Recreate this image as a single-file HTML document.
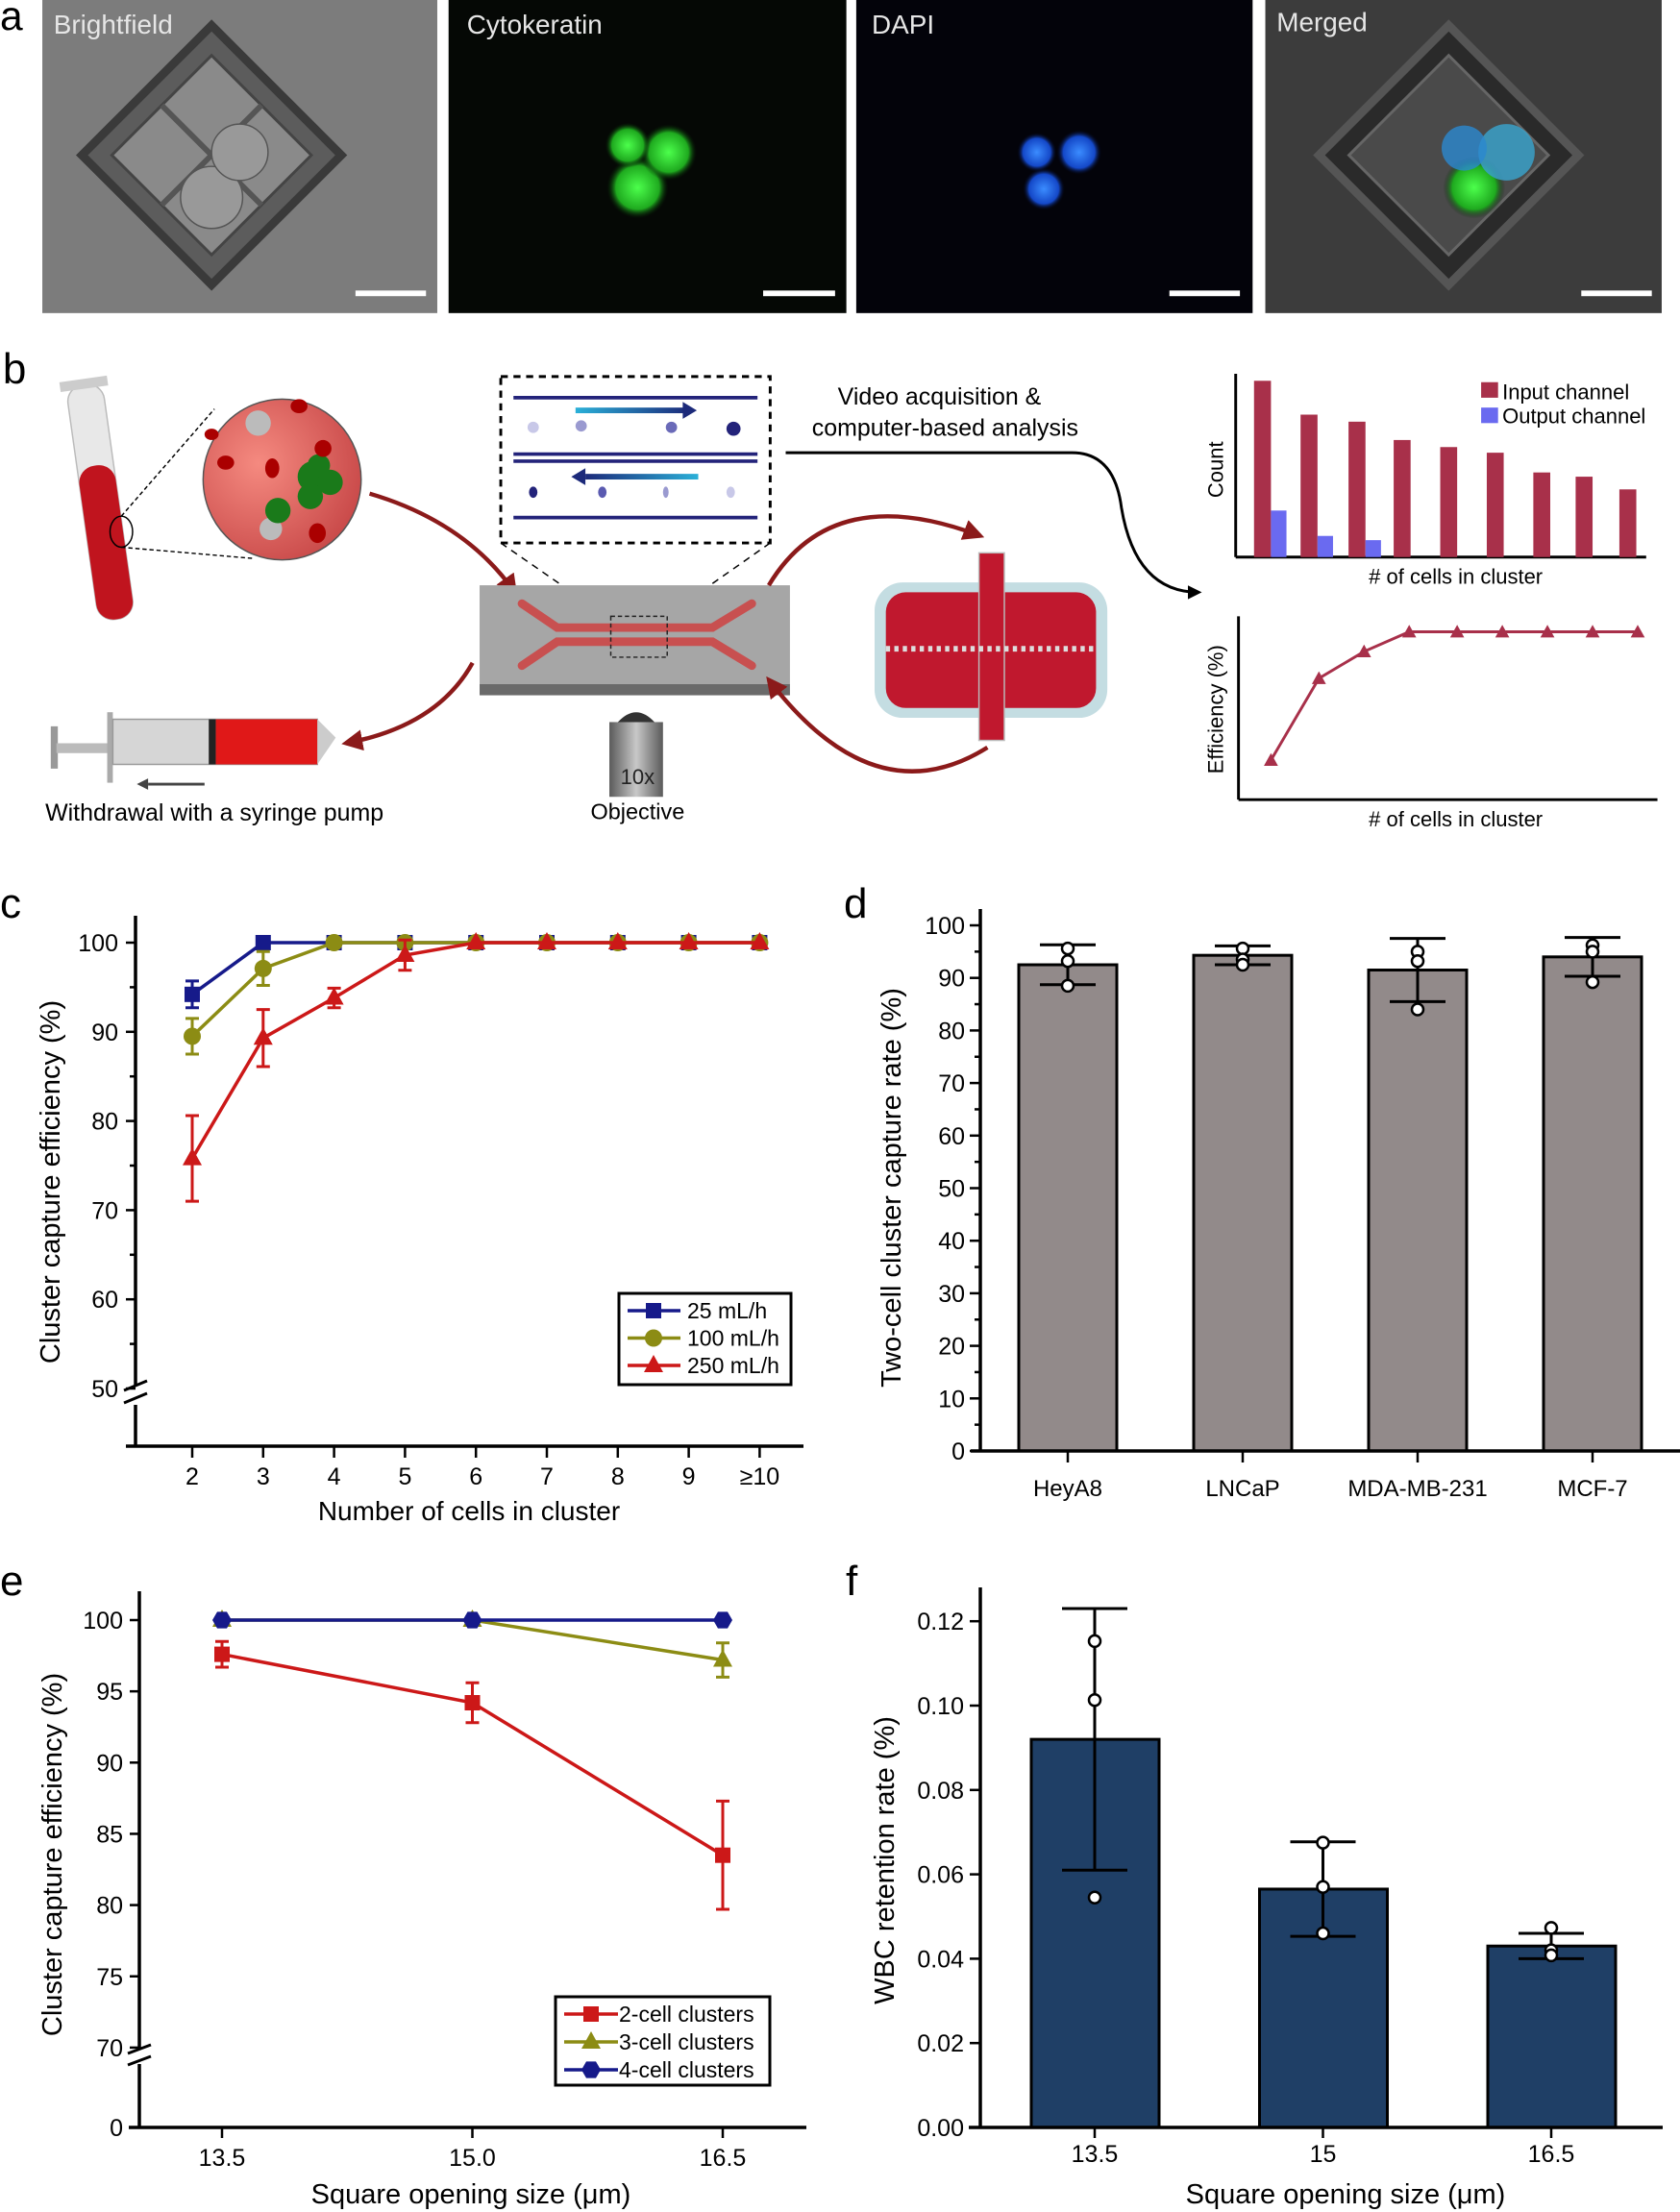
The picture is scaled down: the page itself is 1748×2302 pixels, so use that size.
<!DOCTYPE html>
<html><head><meta charset="utf-8"><style>
html,body{margin:0;padding:0;background:#fff}
svg{display:block}
text{font-family:"Liberation Sans",sans-serif}
</style></head><body>
<svg id="fig" xmlns="http://www.w3.org/2000/svg" width="1748" height="2302" viewBox="0 0 1748 2302">
<defs>
<radialGradient id="gGreen" cx="50%" cy="50%" r="50%"><stop offset="0" stop-color="#4cff4c"/><stop offset="0.7" stop-color="#1faa1f"/><stop offset="1" stop-color="#042004" stop-opacity="0"/></radialGradient>
<radialGradient id="gBlue" cx="50%" cy="50%" r="50%"><stop offset="0" stop-color="#3b8cff"/><stop offset="0.7" stop-color="#1448c8"/><stop offset="1" stop-color="#020418" stop-opacity="0"/></radialGradient>
<radialGradient id="gCircle" cx="35%" cy="40%" r="70%"><stop offset="0" stop-color="#f58a80"/><stop offset="1" stop-color="#c84848"/></radialGradient>
<linearGradient id="gArrow1" x1="0" x2="1"><stop offset="0" stop-color="#2ab0d8"/><stop offset="1" stop-color="#1c2a7a"/></linearGradient>
<linearGradient id="gArrow2" x1="1" x2="0"><stop offset="0" stop-color="#2ab0d8"/><stop offset="1" stop-color="#1c2a7a"/></linearGradient>
<linearGradient id="gObj" x1="0" x2="1"><stop offset="0" stop-color="#5a5a5a"/><stop offset="0.5" stop-color="#c8c8c8"/><stop offset="1" stop-color="#5a5a5a"/></linearGradient>
<marker id="arrR" viewBox="0 0 10 10" refX="8" refY="5" markerWidth="5" markerHeight="5" orient="auto"><path d="M0,0L10,5L0,10z" fill="#8b1a1a"/></marker>
<marker id="arrK" viewBox="0 0 10 10" refX="8" refY="5" markerWidth="5" markerHeight="5" orient="auto"><path d="M0,0L10,5L0,10z" fill="#000"/></marker>
</defs>

<!-- ============ TOP (panels a, b) drawn in display coords ============ -->
<g transform="scale(1.4677)">
  <text x="0" y="21" font-size="29">a</text>
  <g>
    <rect x="30" y="0" width="280" height="222" fill="#7c7c7c"/>
    <g transform="translate(150,110) rotate(45)"><rect x="-65" y="-65" width="130" height="130" fill="#5c5c5c" stroke="#3a3a3a" stroke-width="6"/><rect x="-50" y="-50" width="100" height="100" fill="#8a8a8a" stroke="#444" stroke-width="2"/><line x1="0" y1="-50" x2="0" y2="50" stroke="#555" stroke-width="4"/><line x1="-50" y1="0" x2="50" y2="0" stroke="#555" stroke-width="4"/></g>
    <circle cx="150" cy="140" r="22" fill="#999" stroke="#555"/><circle cx="170" cy="108" r="20" fill="#999" stroke="#555"/>
    <text x="38" y="24" font-size="19" fill="#e6e6e6">Brightfield</text>
    <rect x="252" y="206" width="50" height="4" fill="#fff"/>
  </g>
  <g>
    <rect x="318" y="0" width="282" height="222" fill="#050805"/>
    <circle cx="452" cy="133" r="22" fill="url(#gGreen)"/><circle cx="474" cy="108" r="20" fill="url(#gGreen)"/><circle cx="445" cy="103" r="16" fill="url(#gGreen)"/>
    <text x="331" y="24" font-size="19" fill="#e6e6e6">Cytokeratin</text>
    <rect x="541" y="206" width="51" height="4" fill="#fff"/>
  </g>
  <g>
    <rect x="607" y="0" width="281" height="222" fill="#03030a"/>
    <circle cx="740" cy="134" r="15" fill="url(#gBlue)"/><circle cx="765" cy="108" r="16" fill="url(#gBlue)"/><circle cx="735" cy="108" r="14" fill="url(#gBlue)"/>
    <text x="618" y="24" font-size="19" fill="#e6e6e6">DAPI</text>
    <rect x="829" y="206" width="50" height="4" fill="#fff"/>
  </g>
  <g>
    <rect x="897" y="0" width="281" height="222" fill="#3c3c3c"/>
    <g transform="translate(1027,110) rotate(45)"><rect x="-65" y="-65" width="130" height="130" fill="#2a2a2a" stroke="#555" stroke-width="6"/><rect x="-50" y="-50" width="100" height="100" fill="#4a4a4a" stroke="#666" stroke-width="2"/></g>
    <circle cx="1045" cy="133" r="22" fill="url(#gGreen)"/><circle cx="1068" cy="108" r="20" fill="#3aa0c8" opacity="0.85"/><circle cx="1038" cy="105" r="16" fill="#2a88d0" opacity="0.8"/>
    <text x="905" y="22" font-size="19" fill="#e6e6e6">Merged</text>
    <rect x="1121" y="206" width="50" height="4" fill="#fff"/>
  </g>

  <text x="2" y="272" font-size="30">b</text>
  <g>
    <g transform="rotate(-8 70 355)"><rect x="58" y="272" width="26" height="168" rx="12" fill="#e8e8e8" stroke="#bbb"/><rect x="58" y="330" width="26" height="110" rx="12" fill="#c0141e"/><rect x="54" y="268" width="34" height="7" fill="#ccc"/></g>
    <ellipse cx="86" cy="377" rx="8" ry="11" fill="none" stroke="#000" stroke-width="1"/>
    <line x1="86" y1="366" x2="152" y2="290" stroke="#000" stroke-dasharray="3,2"/><line x1="86" y1="388" x2="180" y2="396" stroke="#000" stroke-dasharray="3,2"/>
  </g>
  <g>
    <ellipse cx="200" cy="340" rx="56" ry="57" fill="url(#gCircle)" stroke="#555"/>
    <circle cx="183" cy="300" r="9" fill="#bbb"/><circle cx="192" cy="375" r="8" fill="#bbb"/>
    <circle cx="197" cy="362" r="9" fill="#1a7a1a"/><circle cx="222" cy="338" r="11" fill="#1a7a1a"/><circle cx="234" cy="342" r="9" fill="#1a7a1a"/><circle cx="220" cy="352" r="9" fill="#1a7a1a"/><circle cx="226" cy="330" r="8" fill="#1a7a1a"/>
    <ellipse cx="212" cy="288" rx="6" ry="5" fill="#a00"/><ellipse cx="160" cy="328" rx="6" ry="5" fill="#a00"/><ellipse cx="193" cy="332" rx="5" ry="7" fill="#a00"/><ellipse cx="229" cy="318" rx="6" ry="6" fill="#a00"/><ellipse cx="225" cy="378" rx="6" ry="7" fill="#a00"/><ellipse cx="150" cy="308" rx="5" ry="4" fill="#a00"/>
  </g>
  <path d="M262,350 Q330,370 365,420" fill="none" stroke="#8b1a1a" stroke-width="3" marker-end="url(#arrR)"/>
  <g>
    <rect x="355" y="267" width="191" height="118" fill="none" stroke="#000" stroke-width="2" stroke-dasharray="5,4"/>
    <line x1="364" y1="282" x2="537" y2="282" stroke="#23237a" stroke-width="2.5"/>
    <line x1="364" y1="322" x2="537" y2="322" stroke="#23237a" stroke-width="2.5"/><line x1="364" y1="327" x2="537" y2="327" stroke="#23237a" stroke-width="2.5"/>
    <line x1="364" y1="367" x2="537" y2="367" stroke="#23237a" stroke-width="2.5"/>
    <rect x="408" y="289" width="80" height="4" fill="url(#gArrow1)"/><path d="M484,285L494,291L484,297z" fill="#1c2a7a"/>
    <rect x="415" y="336" width="80" height="4" fill="url(#gArrow2)"/><path d="M415,332L405,338L415,344z" fill="#1c2a7a"/>
    <circle cx="378" cy="303" r="4" fill="#c8c8e8"/><circle cx="412" cy="302" r="4" fill="#9a9ad0"/><circle cx="476" cy="303" r="4" fill="#6a6ab8"/><circle cx="520" cy="304" r="5" fill="#23237a"/>
    <ellipse cx="378" cy="349" rx="3" ry="4" fill="#23237a"/><ellipse cx="427" cy="349" rx="3" ry="4" fill="#5a5ab0"/><ellipse cx="472" cy="349" rx="2" ry="4" fill="#9a9ad0"/><ellipse cx="518" cy="349" rx="3" ry="4" fill="#c8c8e8"/>
    <line x1="355" y1="385" x2="430" y2="437" stroke="#000" stroke-dasharray="5,4"/><line x1="546" y1="385" x2="472" y2="437" stroke="#000" stroke-dasharray="5,4"/>
  </g>
  <g>
    <rect x="340" y="415" width="220" height="70" fill="#a6a6a6"/><rect x="340" y="485" width="220" height="8" fill="#6a6a6a"/>
    <path d="M370,428 L395,445 L505,445 L533,428 M370,472 L395,455 L505,455 L533,472" fill="none" stroke="#c85050" stroke-width="6" stroke-linecap="round"/>
    <rect x="433" y="437" width="40" height="29" fill="none" stroke="#222" stroke-dasharray="3,2"/>
  </g>
  <g>
    <rect x="432" y="512" width="38" height="53" fill="url(#gObj)"/><path d="M438,512 Q451,498 464,512z" fill="#333"/>
    <text x="452" y="556" font-size="15" text-anchor="middle" fill="#222">10x</text>
    <text x="452" y="581" font-size="16" text-anchor="middle">Objective</text>
  </g>
  <g>
    <rect x="36" y="515" width="5" height="30" fill="#999"/><rect x="40" y="527" width="38" height="7" fill="#bbb"/>
    <rect x="76" y="505" width="4" height="50" fill="#aaa"/>
    <rect x="80" y="510" width="145" height="32" fill="#d6d6d6" stroke="#999"/><rect x="148" y="510" width="5" height="32" fill="#222"/><rect x="153" y="510" width="72" height="32" fill="#e01818"/>
    <path d="M225,510 L238,523 L225,542z" fill="#ccc"/>
    <line x1="105" y1="556" x2="145" y2="556" stroke="#444" stroke-width="2"/><path d="M105,552L97,556L105,560z" fill="#444"/>
    <text x="152" y="582" font-size="17" text-anchor="middle">Withdrawal with a syringe pump</text>
  </g>
  <path d="M335,470 Q310,515 245,527" fill="none" stroke="#8b1a1a" stroke-width="3" marker-end="url(#arrR)"/>
  <path d="M545,415 Q590,340 695,380" fill="none" stroke="#8b1a1a" stroke-width="3" marker-end="url(#arrR)"/>
  <path d="M700,530 Q620,580 545,482" fill="none" stroke="#8b1a1a" stroke-width="3" marker-end="url(#arrR)"/>
  <g>
    <rect x="620" y="413" width="165" height="96" rx="20" fill="#c4dde2"/>
    <rect x="628" y="420" width="149" height="82" rx="14" fill="#c0182e"/>
    <rect x="694" y="392" width="18" height="133" fill="#c0182e" stroke="#bbb"/>
    <line x1="628" y1="460" x2="777" y2="460" stroke="#ddd" stroke-width="4" stroke-dasharray="3,3"/>
  </g>
  <text x="666" y="287" font-size="17" text-anchor="middle">Video acquisition &amp;</text>
  <text x="670" y="309" font-size="17" text-anchor="middle">computer-based analysis</text>
  <path d="M557,321 L760,321 Q790,321 795,360 Q805,420 850,420" fill="none" stroke="#000" stroke-width="2" marker-end="url(#arrK)"/>
  <g>
    <line x1="876" y1="265" x2="876" y2="395" stroke="#000" stroke-width="2"/><line x1="876" y1="395" x2="1167" y2="395" stroke="#000" stroke-width="2"/>
    <g fill="#a8304a">
      <rect x="889" y="270" width="12" height="125"/><rect x="922" y="294" width="12" height="101"/><rect x="956" y="299" width="12" height="96"/><rect x="988" y="312" width="12" height="83"/><rect x="1021" y="317" width="12" height="78"/><rect x="1054" y="321" width="12" height="74"/><rect x="1087" y="335" width="12" height="60"/><rect x="1117" y="338" width="12" height="57"/><rect x="1148" y="347" width="12" height="48"/>
    </g>
    <g fill="#6a6af0"><rect x="901" y="362" width="11" height="33"/><rect x="934" y="380" width="11" height="15"/><rect x="968" y="383" width="11" height="12"/></g>
    <rect x="1050" y="271" width="12" height="11" fill="#a8304a"/><text x="1065" y="283" font-size="15">Input channel</text>
    <rect x="1050" y="289" width="12" height="11" fill="#6a6af0"/><text x="1065" y="300" font-size="15">Output channel</text>
    <text transform="translate(867,333) rotate(-90)" font-size="15" text-anchor="middle">Count</text>
    <text x="1032" y="414" font-size="15" text-anchor="middle"># of cells in cluster</text>
  </g>
  <g>
    <line x1="878" y1="437" x2="878" y2="567" stroke="#000" stroke-width="2"/><line x1="878" y1="567" x2="1175" y2="567" stroke="#000" stroke-width="2"/>
    <polyline points="901,539 935,481 967,462 999,448 1033,448 1065,448 1097,448 1129,448 1161,448" fill="none" stroke="#a8304a" stroke-width="2"/>
    <g fill="#a8304a"><path d="M901,534l5,9h-10z"/><path d="M935,476l5,9h-10z"/><path d="M967,457l5,9h-10z"/><path d="M999,443l5,9h-10z"/><path d="M1033,443l5,9h-10z"/><path d="M1065,443l5,9h-10z"/><path d="M1097,443l5,9h-10z"/><path d="M1129,443l5,9h-10z"/><path d="M1161,443l5,9h-10z"/></g>
    <text transform="translate(867,503) rotate(-90)" font-size="15" text-anchor="middle">Efficiency (%)</text>
    <text x="1032" y="586" font-size="15" text-anchor="middle"># of cells in cluster</text>
  </g>
</g>

<!-- ============ Panel labels & static axis titles ============ -->
<text x="0" y="955" font-size="44">c</text>
<text x="878" y="955" font-size="44">d</text>
<text x="0" y="1660" font-size="44">e</text>
<text x="880" y="1660" font-size="44">f</text>
<g id="charts"></g>
</svg>
<script>
// ---------- Panel c data ----------
const cCats = ["2","3","4","5","6","7","8","9","≥10"];
const c25 = [94.2,100,100,100,100,100,100,100,100];
const c25Err = [1.5,0,0,0,0,0,0,0,0];
const c100 = [89.5,97.1,100,100,100,100,100,100,100];
const c100Err = [2.0,1.9,0,0,0,0,0,0,0];
const c250 = [75.8,89.3,93.8,98.6,100,100,100,100,100];
const c250Err = [4.8,3.2,1.1,1.7,0,0,0,0,0];
const cTicks = [50,60,70,80,90,100];
// ---------- Panel d data ----------
const dCats = ["HeyA8","LNCaP","MDA-MB-231","MCF-7"];
const dVals = [92.5,94.3,91.5,94.0];
const dErr = [3.8,1.8,6.0,3.7];
const dPts1 = [95.6,95.6,95.0,96.2];
const dPts2 = [93.2,93.5,93.2,95.0];
const dPts3 = [88.5,92.5,84.0,89.2];
const dTicks = [0,10,20,30,40,50,60,70,80,90,100];
// ---------- Panel e data ----------
const eX = [13.5,15.0,16.5];
const eTickLabels = ["13.5","15.0","16.5"];
const e2 = [97.6,94.2,83.5];
const e2Err = [0.9,1.4,3.8];
const e3 = [100,100,97.2];
const e3Err = [0,0,1.2];
const e4 = [100,100,100];
const eTicks = [70,75,80,85,90,95,100];
// ---------- Panel f data ----------
const fCats = ["13.5","15","16.5"];
const fVals = [0.092,0.0565,0.043];
const fErr = [0.031,0.0112,0.003];
const fPts1 = [0.1153,0.0675,0.0473];
const fPts2 = [0.1013,0.0570,0.0420];
const fPts3 = [0.0545,0.0460,0.0408];
const fTicks = [0,0.02,0.04,0.06,0.08,0.10,0.12];

const NS="http://www.w3.org/2000/svg";
const root=document.getElementById('charts');
function mk(tag,attrs,parent){const e=document.createElementNS(NS,tag);for(const k in attrs)e.setAttribute(k,attrs[k]);(parent||root).appendChild(e);return e;}
function txt(s,attrs,parent){const e=mk('text',attrs,parent);e.textContent=s;return e;}

const RED="#cc1818", OLIVE="#8c8c14", NAVY="#161a8a";

// ===== Panel c =====
(function(){
  const g=mk('g',{});
  
  
  const X=i=>200+i*73.8, Y=v=>981+(100-v)*9.28;
  const ax=mk('path',{d:'M141,953 L141,1441 M141,1462 L141,1505 M131,1505 L836,1505',stroke:'#000','stroke-width':3.5,fill:'none'},g);
  
  
  mk('path',{d:'M129,1447 L153,1437 M129,1460 L153,1450',stroke:'#000','stroke-width':3,fill:'none'},g);
  for(let v=55;v<100;v+=10) mk('line',{x1:135,x2:141,y1:Y(v),y2:Y(v),stroke:'#000','stroke-width':2.5},g);
  cTicks.forEach(v=>{mk('line',{x1:131,x2:141,y1:Y(v),y2:Y(v),stroke:'#000','stroke-width':2.5},g);
    const t=txt(String(v),{x:123,y:Y(v)+9,'font-size':25,'text-anchor':'end'},g);
    
    });
  cCats.forEach((c,i)=>{mk('line',{x1:X(i),x2:X(i),y1:1505,y2:1517,stroke:'#000','stroke-width':2.5},g);
    const t=txt(c,{x:X(i),y:1545,'font-size':25,'text-anchor':'middle'},g);
    
    });
  const xt=txt('Number of cells in cluster',{x:488,y:1582,'font-size':28,'text-anchor':'middle'},g);
  
  
  const yt=txt('Cluster capture efficiency (%)',{transform:'translate(62,1230) rotate(-90)','font-size':29,'text-anchor':'middle'},g);
  
  
  function marker(type,x,y,col,parent){
    let m;
    if(type==='sq') m=mk('rect',{x:x-8,y:y-8,width:16,height:16,fill:col},parent);
    else if(type==='ci') m=mk('circle',{cx:x,cy:y,r:9,fill:col},parent);
    else m=mk('path',{d:`M${x},${y-11} L${x+10},${y+7} L${x-10},${y+7}z`,fill:col},parent);
    return m;
  }
  const series=[[c25,c25Err,NAVY,'sq','series-25'],[c100,c100Err,OLIVE,'ci','series-100'],[c250,c250Err,RED,'tr','series-250']];
  series.forEach(([vals,err,col,type,name])=>{
    const sg=mk('g',{},g);
    
    
    const pts=vals.map((v,i)=>X(i)+','+Y(v)).join(' ');
    mk('polyline',{points:pts,fill:'none',stroke:col,'stroke-width':3.5},sg);
    vals.forEach((v,i)=>{
      if(err[i]>0){mk('path',{d:`M${X(i)},${Y(v+err[i])} L${X(i)},${Y(v-err[i])} M${X(i)-7},${Y(v+err[i])} L${X(i)+7},${Y(v+err[i])} M${X(i)-7},${Y(v-err[i])} L${X(i)+7},${Y(v-err[i])}`,stroke:col,'stroke-width':3,fill:'none'},sg);}
      const m=marker(type,X(i),Y(v),col,sg);
      
      
    });
  });
  const lg=mk('g',{},g);
  
  
  mk('rect',{x:644,y:1346,width:179,height:95,fill:'#fff',stroke:'#000','stroke-width':3},lg);
  const labs=['25 mL/h','100 mL/h','250 mL/h'];
  series.forEach(([a,b,col,type],i)=>{const y=1364+i*28.5;
    mk('line',{x1:653,x2:708,y1:y,y2:y,stroke:col,'stroke-width':3.5},lg);
    marker(type,680,y,col,lg);
    const t=txt(labs[i],{x:715,y:y+8,'font-size':23},lg);
    
    });
})();

// ===== Panel d =====
(function(){
  const g=mk('g',{});
  
  
  const X=i=>1111+i*182, Y=v=>1510-v*5.47;
  dVals.forEach((v,i)=>{
    const b=mk('rect',{x:X(i)-51,y:Y(v),width:102,height:1510-Y(v),fill:'#928a8a',stroke:'#000','stroke-width':3},g);
    
    
    const hi=Y(v+dErr[i]), lo=Y(v-dErr[i]);
    mk('path',{d:`M${X(i)},${hi} L${X(i)},${lo} M${X(i)-29},${hi} L${X(i)+29},${hi} M${X(i)-29},${lo} L${X(i)+29},${lo}`,stroke:'#000','stroke-width':3,fill:'none'},g);
    [dPts1[i],dPts2[i],dPts3[i]].forEach(p=>{const c=mk('circle',{cx:X(i),cy:Y(p),r:6,fill:'#fff',stroke:'#000','stroke-width':2.5},g);
      
      });
    mk('line',{x1:X(i),x2:X(i),y1:1510,y2:1522,stroke:'#000','stroke-width':2.5},g);
    const t=txt(dCats[i],{x:X(i),y:1557,'font-size':24,'text-anchor':'middle'},g);
    
    
  });
  const ax=mk('path',{d:'M1020,946 L1020,1510 M1010,1510 L1748,1510',stroke:'#000','stroke-width':3.5,fill:'none'},g);
  
  
  for(let v=5;v<100;v+=10) mk('line',{x1:1014,x2:1020,y1:Y(v),y2:Y(v),stroke:'#000','stroke-width':2.5},g);
  dTicks.forEach(v=>{mk('line',{x1:1009,x2:1020,y1:Y(v),y2:Y(v),stroke:'#000','stroke-width':2.5},g);
    const t=txt(String(v),{x:1004,y:Y(v)+9,'font-size':25,'text-anchor':'end'},g);
    
    });
  const yt=txt('Two-cell cluster capture rate (%)',{transform:'translate(937,1236) rotate(-90)','font-size':29,'text-anchor':'middle'},g);
  
  
})();

// ===== Panel e =====
(function(){
  const g=mk('g',{});
  
  
  const X=v=>231+(v-13.5)/1.5*260.5, Y=v=>v>=70?1686+(100-v)*14.83:2214;
  const ax=mk('path',{d:'M145,1656 L145,2133 M145,2148 L145,2214 M134,2214 L839,2214',stroke:'#000','stroke-width':3.5,fill:'none'},g);
  
  
  mk('path',{d:'M133,2137 L157,2128 M133,2149 L157,2140',stroke:'#000','stroke-width':3,fill:'none'},g);
  eTicks.concat([0]).forEach(v=>{mk('line',{x1:135,x2:145,y1:Y(v),y2:Y(v),stroke:'#000','stroke-width':2.5},g);
    const t=txt(String(v),{x:128,y:Y(v)+9,'font-size':25,'text-anchor':'end'},g);
    
    });
  eX.forEach((v,i)=>{mk('line',{x1:X(v),x2:X(v),y1:2214,y2:2225,stroke:'#000','stroke-width':2.5},g);
    const t=txt(eTickLabels[i],{x:X(v),y:2254,'font-size':25,'text-anchor':'middle'},g);
    
    });
  const xt=txt('Square opening size (μm)',{x:490,y:2293,'font-size':29,'text-anchor':'middle'},g);
  
  
  const yt=txt('Cluster capture efficiency (%)',{transform:'translate(64,1930) rotate(-90)','font-size':29,'text-anchor':'middle'},g);
  
  
  function marker(type,x,y,col,parent){
    if(type==='sq') return mk('rect',{x:x-8,y:y-8,width:16,height:16,fill:col},parent);
    if(type==='tr') return mk('path',{d:`M${x},${y-11} L${x+10},${y+7} L${x-10},${y+7}z`,fill:col},parent);
    const r=10;let d='';for(let k=0;k<6;k++){const a=Math.PI/3*k;d+=(k?'L':'M')+(x+r*Math.cos(a))+','+(y+r*Math.sin(a));}
    return mk('path',{d:d+'z',fill:col},parent);
  }
  const series=[[e3,e3Err,OLIVE,'tr','3-cell'],[e2,e2Err,RED,'sq','2-cell'],[e4,[0,0,0],NAVY,'hx','4-cell']];
  series.forEach(([vals,err,col,type,name])=>{
    const sg=mk('g',{},g);
    
    
    mk('polyline',{points:vals.map((v,i)=>X(eX[i])+','+Y(v)).join(' '),fill:'none',stroke:col,'stroke-width':3.5},sg);
    vals.forEach((v,i)=>{const x=X(eX[i]);
      if(err[i]>0) mk('path',{d:`M${x},${Y(v+err[i])} L${x},${Y(v-err[i])} M${x-7},${Y(v+err[i])} L${x+7},${Y(v+err[i])} M${x-7},${Y(v-err[i])} L${x+7},${Y(v-err[i])}`,stroke:col,'stroke-width':3,fill:'none'},sg);
      const m=marker(type,x,Y(v),col,sg);
      
      });
  });
  const lg=mk('g',{},g);
  
  
  mk('rect',{x:578,y:2078,width:223,height:92,fill:'#fff',stroke:'#000','stroke-width':3},lg);
  const items=[['2-cell clusters',RED,'sq'],['3-cell clusters',OLIVE,'tr'],['4-cell clusters',NAVY,'hx']];
  items.forEach(([lab,col,type],i)=>{const y=2096+i*29;
    mk('line',{x1:587,x2:643,y1:y,y2:y,stroke:col,'stroke-width':3.5},lg);
    marker(type,615,y,col,lg);
    const t=txt(lab,{x:644,y:y+8,'font-size':23},lg);
    
    });
})();

// ===== Panel f =====
(function(){
  const g=mk('g',{});
  
  
  const X=i=>1139+i*237.5, Y=v=>2214-v/0.02*87.8;
  fVals.forEach((v,i)=>{
    const b=mk('rect',{x:X(i)-66,y:Y(v),width:133,height:2214-Y(v),fill:'#1f3f66',stroke:'#000','stroke-width':3},g);
    
    
    const hi=Y(v+fErr[i]), lo=Y(v-fErr[i]);
    mk('path',{d:`M${X(i)},${hi} L${X(i)},${lo} M${X(i)-34},${hi} L${X(i)+34},${hi} M${X(i)-34},${lo} L${X(i)+34},${lo}`,stroke:'#000','stroke-width':3,fill:'none'},g);
    [fPts1[i],fPts2[i],fPts3[i]].forEach(p=>{const c=mk('circle',{cx:X(i),cy:Y(p),r:6,fill:'#fff',stroke:'#000','stroke-width':2.5},g);
      
      });
    mk('line',{x1:X(i),x2:X(i),y1:2214,y2:2225,stroke:'#000','stroke-width':2.5},g);
    const t=txt(fCats[i],{x:X(i),y:2250,'font-size':25,'text-anchor':'middle'},g);
    
    
  });
  const ax=mk('path',{d:'M1020,1652 L1020,2214 M1008,2214 L1730,2214',stroke:'#000','stroke-width':3.5,fill:'none'},g);
  
  
  fTicks.forEach(v=>{mk('line',{x1:1009,x2:1020,y1:Y(v),y2:Y(v),stroke:'#000','stroke-width':2.5},g);
    const t=txt(v.toFixed(2),{x:1003,y:Y(v)+9,'font-size':25,'text-anchor':'end'},g);
    
    });
  const xt=txt('Square opening size (μm)',{x:1400,y:2293,'font-size':29,'text-anchor':'middle'},g);
  
  
  const yt=txt('WBC retention rate (%)',{transform:'translate(930,1936) rotate(-90)','font-size':29,'text-anchor':'middle'},g);
  
  
})();
</script>
</body></html>
